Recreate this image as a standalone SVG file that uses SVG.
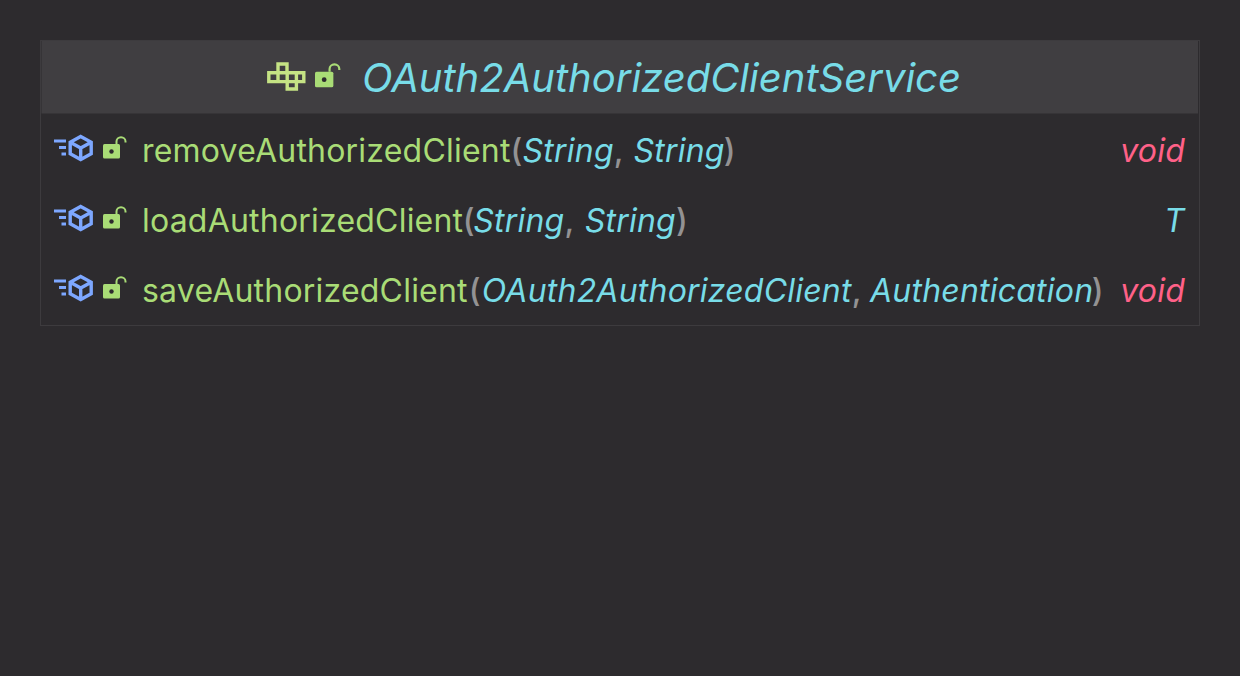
<svg xmlns="http://www.w3.org/2000/svg" width="1240" height="676" viewBox="0 0 1240 676">
<style>
text{font-family:"Inter","Noto Sans",sans-serif;font-size:32px;letter-spacing:.21px}
.t{font-size:40px;letter-spacing:0;font-style:italic;fill:#78dce8}
.m{fill:#a9dc76}.c{font-style:italic;fill:#78dce8}.p{fill:#939293;font-weight:500}.v{font-style:italic;fill:#ff6188}
</style>
<defs>
<g id="lock"><rect x="0" y="8" width="17" height="14.500" rx="1.500" fill="#a9dc76"/><circle cx="8.500" cy="15.500" r="2.200" fill="#2d2a2e"/><path d="M13.500 8V5.500a4.500 4.200 0 0 1 9 0V6.500" fill="none" stroke="#a9dc76" stroke-width="2"/></g>
<g id="mi"><path d="M54 -6.500h12M59 0h7M61.500 6.500h4.500" stroke="#7da7ff" stroke-width="3.200" fill="none"/><path d="M80.700-11l10.500 5.700v11.600l-10.500 5.700-10.500-5.700V-5.300zM70.200-5.300l10.500 5.800 10.500-5.800M80.700.5v11.500" fill="none" stroke="#7da7ff" stroke-width="3.400"/></g>
</defs>
<rect width="1240" height="676" fill="#2d2b2e"/>
<g id="table">
<rect x="40.500" y="40.500" width="1159" height="285" fill="#2d2b2e" stroke="#3d3b3e"/>
<rect x="41.500" y="41" width="1156.500" height="72.500" fill="#403e41"/>
</g>
<g id="header">
<path d="M278 64h9v8.800h-9zM268.800 72.800h9.200v8.800h-9.200zM278 72.800h9.200v8.800h-9.200zM287.200 72.800h9.200v8.800h-9.200zM296.400 72.800h7.400v8.800h-7.400zM287.200 81.600h9.200v7.400h-9.200z" fill="none" stroke="#c5e384" stroke-width="3.400"/>
<use href="#lock" transform="translate(315 63) scale(1.080)"/>
<text class="t" x="362" y="92">OAuth2AuthorizedClientService</text>
</g>
<g id="row-remove">
<use href="#mi" y="147.500"/>
<use href="#lock" x="103" y="136"/>
<text x="142" y="162"><tspan class="m">removeAuthorizedClient</tspan><tspan class="p">(</tspan><tspan class="c">String</tspan><tspan class="p">, </tspan><tspan class="c" dx="1.500">String</tspan><tspan class="p" dx="-1">)</tspan></text>
<text class="v" x="1185" y="162" text-anchor="end">void</text>
</g>
<g id="row-load">
<use href="#mi" y="217.500"/>
<use href="#lock" x="103" y="206"/>
<text x="142" y="232"><tspan class="m">loadAuthorizedClient</tspan><tspan class="p" dx="-.5">(</tspan><tspan class="c" dx="-1.500">String</tspan><tspan class="p">, </tspan><tspan class="c" dx="2">String</tspan><tspan class="p">)</tspan></text>
<text class="c" x="1185" y="232" text-anchor="end">T</text>
</g>
<g id="row-save">
<use href="#mi" y="287.500"/>
<use href="#lock" x="103" y="276"/>
<text x="142" y="302"><tspan class="m">saveAuthorizedClient</tspan><tspan class="p" dx="1">(</tspan><tspan class="c" dx="1">OAuth2AuthorizedClient</tspan><tspan class="p">, </tspan><tspan class="c">Authentication</tspan><tspan class="p" dx="-1.500">)</tspan></text>
<text class="v" x="1185" y="302" text-anchor="end">void</text>
</g>
<g id="connectors"/>
</svg>
